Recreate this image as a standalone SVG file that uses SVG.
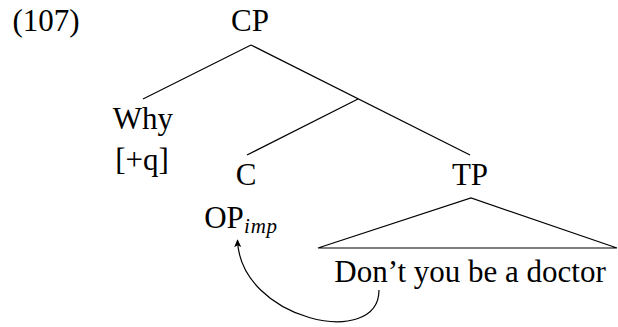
<svg xmlns="http://www.w3.org/2000/svg" width="618" height="327" viewBox="0 0 618 327">
<style>
text{font-family:"Liberation Serif","Times New Roman",serif;font-size:31px;fill:#000;text-anchor:middle}
.e{stroke:#000;stroke-width:1.2;fill:none}
.sub{font-size:21px;font-style:italic;text-anchor:start;letter-spacing:0.8px}
</style>
<defs>
<marker id="ah" viewBox="0 0 10 10" refX="9" refY="5" markerWidth="8" markerHeight="8" orient="auto" markerUnits="userSpaceOnUse">
<path d="M0,0.5 L10,5 L0,9.5 L2.5,5 Z" fill="#000"/>
</marker>
</defs>
<text x="46" y="31">(107)</text>
<g id="connectors">
<line class="e" x1="251" y1="45" x2="143" y2="99"/>
<line class="e" x1="251" y1="45" x2="470" y2="155"/>
<line class="e" x1="358" y1="99" x2="247" y2="155"/>
<path class="e" d="M318,248 L471,198 L617,248 Z"/>
<path class="e" d="M379,290 C379,350 240,320 237.5,240" marker-end="url(#ah)"/>
</g>
<g id="CP"><text x="250" y="31">CP</text></g>
<g id="Why"><text x="143" y="129">Why</text><text x="142" y="170">[+q]</text></g>
<g id="C"><text x="246" y="185">C</text></g>
<g id="OP"><text x="224" y="228">OP</text><text class="sub" x="244" y="233">imp</text></g>
<g id="TP"><text x="470" y="185">TP</text></g>
<g id="sentence"><text x="470" y="282">Don’t you be a doctor</text></g>
</svg>
